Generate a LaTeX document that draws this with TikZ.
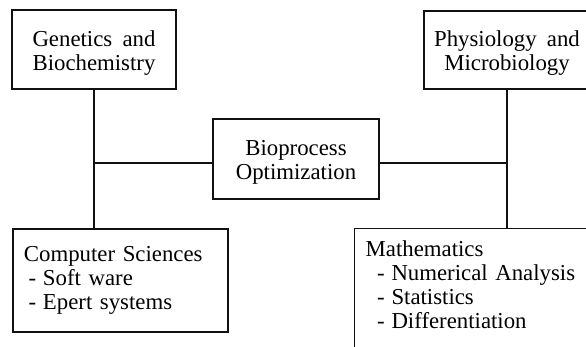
\documentclass[tikz,border=0pt]{standalone}
\usepackage{fontspec}
\setmainfont{Liberation Serif}
\usetikzlibrary{positioning}
\definecolor{ink}{HTML}{111111}
\newcommand{\boxfont}{\fontsize{11.4}{12}\selectfont\spaceskip 0.45em\relax}
\tikzset{
  box/.style={rectangle, draw=ink, line width=0.7pt, align=center,
              font=\boxfont, inner sep=0pt},
  raise/.style={execute at begin node={\rule{0pt}{#1}}},
  topic/.style={box, raise=23pt, minimum width=82pt, minimum height=39.5pt},
  lst/.style={box, align=left, inner xsep=5.5pt, inner ysep=5pt},
  ln/.style={draw=ink, line width=0.7pt}
}
\newcommand{\itm}[2][0.5em]{\hspace*{#1}-\hspace{0.3em}#2}

\begin{document}
\begin{tikzpicture}[x=0.5pt, y=-0.5pt]
  \useasboundingbox (0,0) rectangle (586,347);
  \clip (0,0) rectangle (586,347);
  \node[topic] (gen) at (94,49.5) {Genetics and\\Biochemistry};
  \node[topic, minimum width=83pt, minimum height=39pt] (phys) at (507,50) {Physiology and\\Microbiology};
  \node[topic, minimum width=83pt, minimum height=40pt] (bio) at (296,159) {Bioprocess\\Optimization};
  \node[lst, text width=96.5pt, minimum height=51.5pt] (comp) at (120.5,280.5)
    {Computer Sciences\\\itm[0.2em]{Soft ware}\\\itm[0.2em]{Epert systems}};
  \node[lst, text width=150pt, inner ysep=6pt, anchor=north west] (math) at (354,228)
    {Mathematics\\\itm{Numerical Analysis}\\\itm{Statistics}\\\itm{Differentiation}\rule[-20pt]{0pt}{0pt}};
  % junctions of the connecting lines
  \coordinate (bw) at ([yshift=-2pt]bio.west);
  \coordinate (be) at ([yshift=-2pt]bio.east);
  \coordinate (jl) at (gen.south |- bw);
  \coordinate (jr) at (phys.south |- be);
  \coordinate (cn) at (gen.south |- comp.north);
  \coordinate (mn) at (phys.south |- math.north);
  \foreach \a/\b in {gen.south/cn,bw/jl,be/jr,phys.south/mn} \draw[ln] (\a)--(\b);
\end{tikzpicture}
\end{document}
